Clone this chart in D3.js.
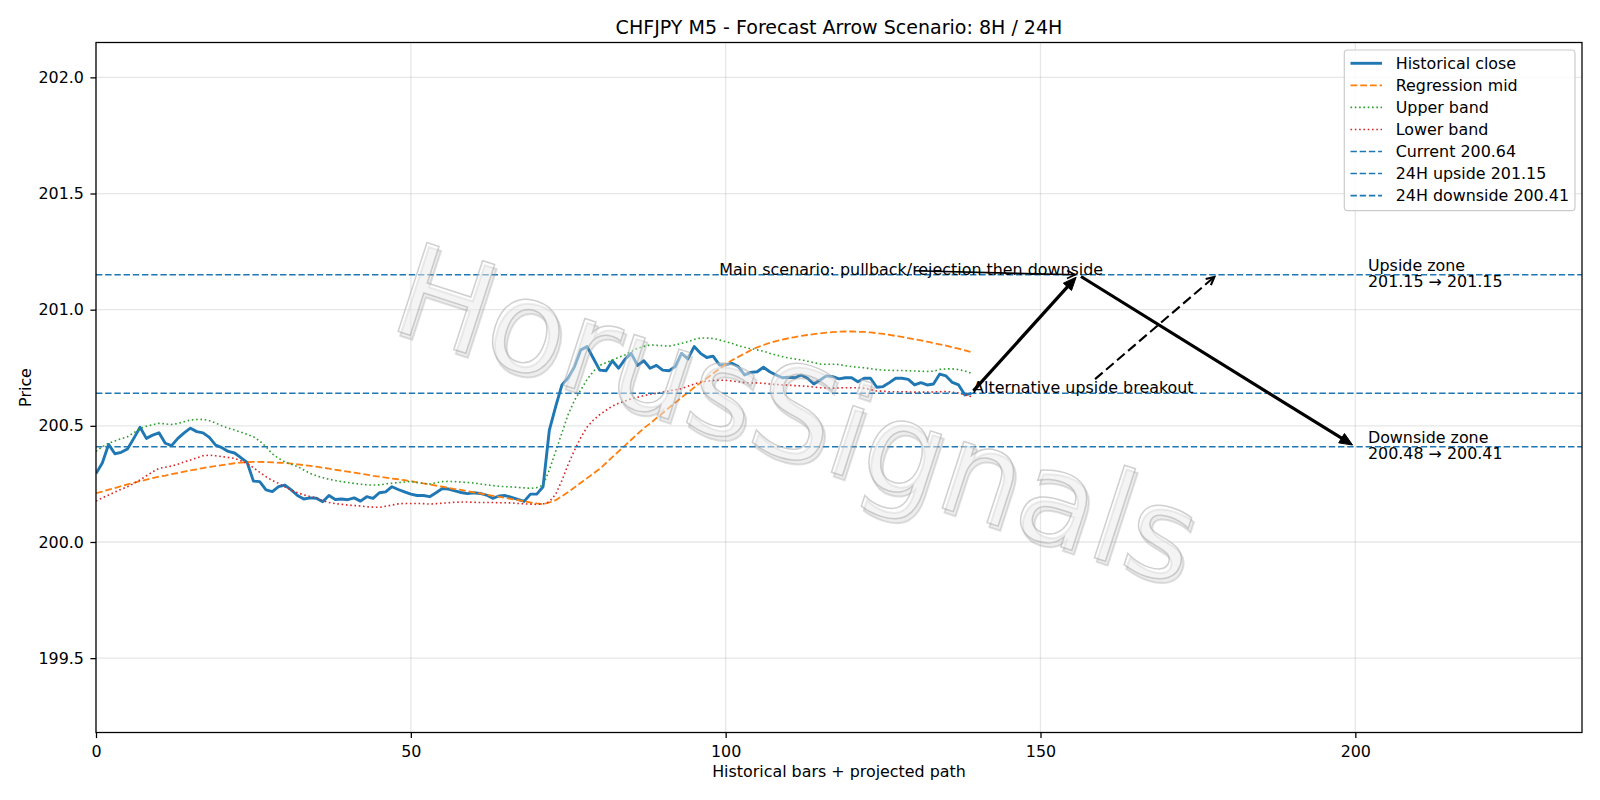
<!DOCTYPE html>
<html><head><meta charset="utf-8">
<script src="https://cdn.jsdelivr.net/npm/d3@7"></script>
<style>body{margin:0;background:#fff} svg{display:block} text{font-family:"DejaVu Sans",sans-serif}</style>
</head><body>
<svg id="c" width="1600" height="800"></svg>
<script>
const histClose=[200.295,200.34,200.42,200.38,200.386,200.40,200.446,200.494,200.446,200.46,
200.47,200.425,200.415,200.446,200.47,200.49,200.475,200.47,200.45,200.417,
200.406,200.39,200.383,200.363,200.343,200.262,200.26,200.224,200.217,200.238,
200.245,200.224,200.20,200.185,200.19,200.188,200.173,200.20,200.183,200.185,
200.182,200.19,200.176,200.195,200.188,200.212,200.216,200.238,200.226,200.216,
200.206,200.20,200.20,200.195,200.212,200.23,200.228,200.22,200.213,200.208,
200.212,200.209,200.202,200.188,200.198,200.20,200.192,200.183,200.175,200.206,
200.206,200.238,200.482,200.583,200.676,200.707,200.755,200.827,200.841,200.79,
200.74,200.737,200.78,200.748,200.786,200.812,200.76,200.78,200.748,200.76,
200.74,200.737,200.755,200.812,200.788,200.841,200.812,200.794,200.80,200.762,
200.762,200.769,200.755,200.719,200.73,200.733,200.752,200.733,200.719,200.707,
200.709,200.707,200.719,200.705,200.68,200.697,200.715,200.712,200.702,200.707,
200.707,200.69,200.705,200.705,200.666,200.669,200.686,200.705,200.705,200.70,
200.676,200.686,200.676,200.68,200.723,200.715,200.687,200.676,200.633,200.64];
const regMid=[200.21,200.217,200.225,200.232,200.24,200.248,200.255,200.262,200.268,200.275,
200.281,200.286,200.292,200.297,200.303,200.308,200.313,200.318,200.323,200.327,
200.331,200.335,200.339,200.342,200.344,200.345,200.345,200.344,200.343,200.341,
200.34,200.337,200.334,200.331,200.328,200.324,200.32,200.316,200.311,200.307,
200.303,200.299,200.294,200.29,200.285,200.281,200.277,200.273,200.27,200.266,
200.262,200.257,200.252,200.248,200.243,200.238,200.233,200.228,200.224,200.219,
200.214,200.209,200.204,200.199,200.195,200.19,200.185,200.18,200.175,200.17,
200.166,200.163,200.17,200.18,200.197,200.215,200.235,200.255,200.275,200.295,
200.315,200.34,200.365,200.39,200.415,200.44,200.465,200.49,200.51,200.533,
200.555,200.578,200.60,200.622,200.643,200.665,200.685,200.705,200.725,200.745,
200.765,200.782,200.797,200.811,200.826,200.838,200.848,200.857,200.865,200.871,
200.877,200.882,200.887,200.891,200.895,200.898,200.901,200.903,200.905,200.906,
200.906,200.905,200.904,200.902,200.899,200.896,200.892,200.887,200.883,200.878,
200.873,200.868,200.862,200.856,200.851,200.845,200.838,200.832,200.825,200.817];
const upperBand=[200.39,200.41,200.425,200.435,200.445,200.453,200.47,200.489,200.498,200.505,
200.511,200.508,200.506,200.51,200.518,200.525,200.527,200.528,200.522,200.512,
200.50,200.49,200.482,200.473,200.463,200.453,200.435,200.41,200.38,200.36,
200.345,200.335,200.325,200.31,200.295,200.285,200.277,200.27,200.265,200.26,
200.256,200.252,200.249,200.246,200.245,200.246,200.25,200.253,200.256,200.258,
200.26,200.256,200.252,200.25,200.255,200.26,200.261,200.26,200.258,200.256,
200.254,200.25,200.246,200.243,200.24,200.238,200.237,200.235,200.233,200.231,
200.234,200.245,200.31,200.39,200.47,200.55,200.61,200.655,200.70,200.735,
200.76,200.772,200.783,200.795,200.805,200.82,200.834,200.842,200.848,200.847,
200.845,200.843,200.848,200.855,200.862,200.872,200.878,200.878,200.876,200.87,
200.862,200.855,200.845,200.838,200.832,200.827,200.821,200.812,200.805,200.798,
200.792,200.788,200.784,200.778,200.772,200.766,200.765,200.765,200.764,200.759,
200.755,200.752,200.75,200.746,200.742,200.74,200.739,200.738,200.738,200.737,
200.736,200.735,200.734,200.735,200.743,200.745,200.745,200.742,200.736,200.726];
const lowerBand=[200.176,200.19,200.202,200.215,200.227,200.238,200.252,200.267,200.285,200.302,
200.317,200.322,200.327,200.335,200.345,200.353,200.362,200.371,200.374,200.371,
200.367,200.364,200.36,200.35,200.338,200.32,200.30,200.281,200.265,200.252,
200.237,200.224,200.212,200.203,200.196,200.19,200.178,200.17,200.165,200.162,
200.159,200.157,200.155,200.152,200.15,200.149,200.154,200.159,200.164,200.166,
200.166,200.166,200.165,200.163,200.165,200.167,200.169,200.171,200.172,200.172,
200.171,200.17,200.17,200.17,200.169,200.169,200.168,200.166,200.164,200.163,
200.162,200.163,200.173,200.205,200.265,200.335,200.395,200.45,200.495,200.525,
200.548,200.567,200.585,200.597,200.607,200.616,200.623,200.63,200.636,200.64,
200.645,200.65,200.655,200.66,200.67,200.68,200.688,200.693,200.695,200.696,
200.696,200.693,200.69,200.686,200.685,200.685,200.683,200.68,200.678,200.676,
200.675,200.673,200.672,200.67,200.667,200.664,200.663,200.662,200.663,200.664,
200.664,200.664,200.662,200.656,200.65,200.649,200.647,200.647,200.647,200.646,
200.645,200.645,200.645,200.646,200.647,200.648,200.645,200.641,200.633,200.626];
const levelLabels=["Current 200.64","24H upside 201.15","24H downside 200.41"];
const levelValues=[200.64,201.15,200.41];
const seriesLabels=["Historical close","Regression mid","Upper band","Lower band"];
const xTicks=[0,50,100,150,200];
const yTicks=[199.5,200.0,200.5,201.0,201.5,202.0];
const scenarioPts=[[139,200.64],[156,201.15],[200,200.41]];
const altTarget=[178,201.15];
const mainText={t:"Main scenario: pullback/rejection then downside",x:99,y:201.15};
const altText={t:"Alternative upside breakout",x:139.3,y:200.64};
const zoneUp=["Upside zone","201.15 \u2192 201.15"], zoneUpAt=[202,201.15];
const zoneDn=["Downside zone","200.48 \u2192 200.41"], zoneDnAt=[202,200.41];
const titleText="CHFJPY M5 - Forecast Arrow Scenario: 8H / 24H";
const xLabel="Historical bars + projected path", yLabel="Price";
const watermark="HorusSignals";

const L=96,R=1582,T=42.5,B=732.5;
const x=d3.scaleLinear([0,236],[L,R]);
const y=d3.scaleLinear([199.18,202.15],[B,T]);
const svg=d3.select("#c");
const FS=15.9;

// grid
const g=svg.append("g");
g.selectAll(".gx").data(xTicks).join("line").attr("x1",d=>x(d)).attr("x2",d=>x(d)).attr("y1",T).attr("y2",B)
 .attr("stroke","#b0b0b0").attr("stroke-opacity",0.3).attr("stroke-width",1.27);
g.selectAll(".gy").data(yTicks).join("line").attr("x1",L).attr("x2",R).attr("y1",d=>y(d)).attr("y2",d=>y(d))
 .attr("stroke","#b0b0b0").attr("stroke-opacity",0.3).attr("stroke-width",1.27);

svg.append("clipPath").attr("id","pa").append("rect").attr("x",L).attr("y",T).attr("width",R-L).attr("height",B-T);
const pg=svg.append("g").attr("clip-path","url(#pa)");
const line=d3.line().x((d,i)=>x(i)).y(d=>y(d));
const styles=[
 {data:histClose,color:"#1f77b4",w:2.9,dash:null},
 {data:regMid,color:"#ff7f0e",w:1.8,dash:"6.8,2.9"},
 {data:upperBand,color:"#2ca02c",w:1.6,dash:"1.6,2.7"},
 {data:lowerBand,color:"#d62728",w:1.6,dash:"1.6,2.7"}];
styles.forEach(s=>{pg.append("path").datum(s.data).attr("d",line).attr("fill","none").attr("stroke",s.color)
 .attr("stroke-width",s.w).attr("stroke-dasharray",s.dash).attr("stroke-linejoin","round");});
levelValues.forEach(v=>{pg.append("line").attr("x1",L).attr("x2",R).attr("y1",y(v)).attr("y2",y(v))
 .attr("stroke","#1f77b4").attr("stroke-width",1.6).attr("stroke-dasharray","6.4,2.8");});

// axes
const ax=svg.append("g").attr("transform",`translate(0,${B})`).call(d3.axisBottom(x).tickValues(xTicks).tickFormat(d3.format("d")).tickSize(5.6).tickPadding(5.6));
const ay=svg.append("g").attr("transform",`translate(${L},0)`).call(d3.axisLeft(y).tickValues(yTicks).tickFormat(d3.format(".1f")).tickSize(5.6).tickPadding(6.5));
[ax,ay].forEach(a=>{a.select(".domain").remove();a.selectAll("text").attr("font-size",FS).attr("fill","#000").attr("font-family","DejaVu Sans");
 a.selectAll("line").attr("stroke","#000").attr("stroke-width",1.27);});
ax.selectAll("text").attr("y",13.5);
svg.append("rect").attr("x",L).attr("y",T).attr("width",R-L).attr("height",B-T).attr("fill","none").attr("stroke","#000").attr("stroke-width",1.27);

svg.append("text").attr("x",(L+R)/2).attr("y",33.5).attr("text-anchor","middle").attr("font-size",19.05).text(titleText);
svg.append("text").attr("x",(L+R)/2).attr("y",777).attr("text-anchor","middle").attr("font-size",FS).text(xLabel);
svg.append("text").attr("transform",`translate(25.5,${(T+B)/2}) rotate(-90)`).attr("dy","0.35em").attr("text-anchor","middle").attr("font-size",FS).text(yLabel);

// annotations
const an=svg.append("g");
function arrow(p0,p1,opt){
  const dx=p1[0]-p0[0],dy=p1[1]-p0[1],len=Math.hypot(dx,dy),ux=dx/len,uy=dy/len;
  const s=3.2;const a=[p0[0]+ux*s,p0[1]+uy*s],b=[p1[0]-ux*s,p1[1]-uy*s];
  const hl=opt.hl,hw=opt.hw;const base=[b[0]-ux*hl,b[1]-uy*hl];
  if(opt.filled){
    an.append("line").attr("x1",a[0]).attr("y1",a[1]).attr("x2",base[0]+ux*1).attr("y2",base[1]+uy*1).attr("stroke","#000").attr("stroke-width",opt.w);
    an.append("path").attr("d",`M${b[0]},${b[1]}L${base[0]-uy*hw},${base[1]+ux*hw}L${base[0]+uy*hw},${base[1]-ux*hw}Z`).attr("fill","#000").attr("stroke","#000").attr("stroke-width",1);
  } else {
    an.append("line").attr("x1",a[0]).attr("y1",a[1]).attr("x2",b[0]).attr("y2",b[1]).attr("stroke","#000").attr("stroke-width",opt.w).attr("stroke-dasharray",opt.dash||null);
    an.append("path").attr("d",`M${base[0]-uy*hw},${base[1]+ux*hw}L${b[0]},${b[1]}L${base[0]+uy*hw},${base[1]-ux*hw}`).attr("fill","none").attr("stroke","#000").attr("stroke-width",opt.w);
  }
}
const mt=an.append("text").attr("x",x(mainText.x)).attr("y",y(mainText.y)).attr("font-size",FS).text(mainText.t);
const at=an.append("text").attr("x",x(altText.x)).attr("y",y(altText.y)).attr("font-size",FS).text(altText.t);
const P=scenarioPts.map(p=>[x(p[0]),y(p[1])]);
arrow(P[0],P[1],{filled:true,w:3.2,hl:13,hw:5.5});
arrow(P[1],P[2],{filled:true,w:3.2,hl:13,hw:5.5});
function textBox(t,base){const w=t.node().getComputedTextLength();const x0=+t.attr("x");
  return {x0:x0,x1:x0+w,y0:base-0.76*FS,y1:base+0.24*FS};}
{const bb=textBox(mt,y(mainText.y));const c=[(bb.x0+bb.x1)/2,(bb.y0+bb.y1)/2];
 arrow(c,P[1],{filled:false,w:1.7,hl:8,hw:4});}
{const bb=textBox(at,y(altText.y));const c=[(bb.x0+bb.x1)/2,(bb.y0+bb.y1)/2];
 const tgt=[x(altTarget[0]),y(altTarget[1])];
 const dx=tgt[0]-c[0],dy=tgt[1]-c[1];
 const hx=(bb.x1-bb.x0)/2,hy=(bb.y1-bb.y0)/2;
 const t=Math.min(Math.abs(hx/dx),Math.abs(hy/dy));
 const st=[c[0]+dx*t,c[1]+dy*t];
 arrow(st,tgt,{filled:false,w:2.1,dash:"10,4.5",hl:8,hw:4});}
function zone(lines,at){
  const t=an.append("text").attr("x",x(at[0])).attr("y",y(at[1])).attr("font-size",FS);
  t.append("tspan").attr("x",x(at[0])).attr("dy",-4).text(lines[0]);
  t.append("tspan").attr("x",x(at[0])).attr("dy",16.3).text(lines[1]);
}
zone(zoneUp,zoneUpAt);zone(zoneDn,zoneDnAt);

// legend
const lg=svg.append("g");
lg.append("rect").attr("x",1344.3).attr("y",50).attr("width",230.7).attr("height",160.7).attr("rx",3.5).attr("fill","#fff").attr("fill-opacity",0.8).attr("stroke","#cccccc").attr("stroke-width",1.2);
const items=seriesLabels.map((l,i)=>({l,s:styles[i]})).concat(levelLabels.map(l=>({l,s:{color:"#1f77b4",w:1.6,dash:"6.4,2.8"}})));
items.forEach((it,i)=>{const yy=63.3+i*22.05;
 lg.append("line").attr("x1",1350.5).attr("x2",1382).attr("y1",yy).attr("y2",yy).attr("stroke",it.s.color).attr("stroke-width",it.s.w).attr("stroke-dasharray",it.s.dash);
 lg.append("text").attr("x",1395.7).attr("y",yy).attr("dy","0.36em").attr("font-size",FS).text(it.l);});

// watermark
const wm=svg.append("g").attr("transform","translate(795,420) rotate(18)");
wm.append("text").attr("x",3.5).attr("y",3.5).attr("text-anchor","middle").attr("dy","0.3em").attr("font-size",128)
  .attr("fill","#999").attr("fill-opacity",0.18).attr("stroke","#999").attr("stroke-opacity",0.3).attr("stroke-width",2).text(watermark);
wm.append("text").attr("text-anchor","middle").attr("dy","0.3em").attr("font-size",128)
  .attr("fill","#fff").attr("fill-opacity",0.4).attr("stroke","#aaa").attr("stroke-opacity",0.55).attr("stroke-width",1.5).text(watermark);
</script></body></html>
